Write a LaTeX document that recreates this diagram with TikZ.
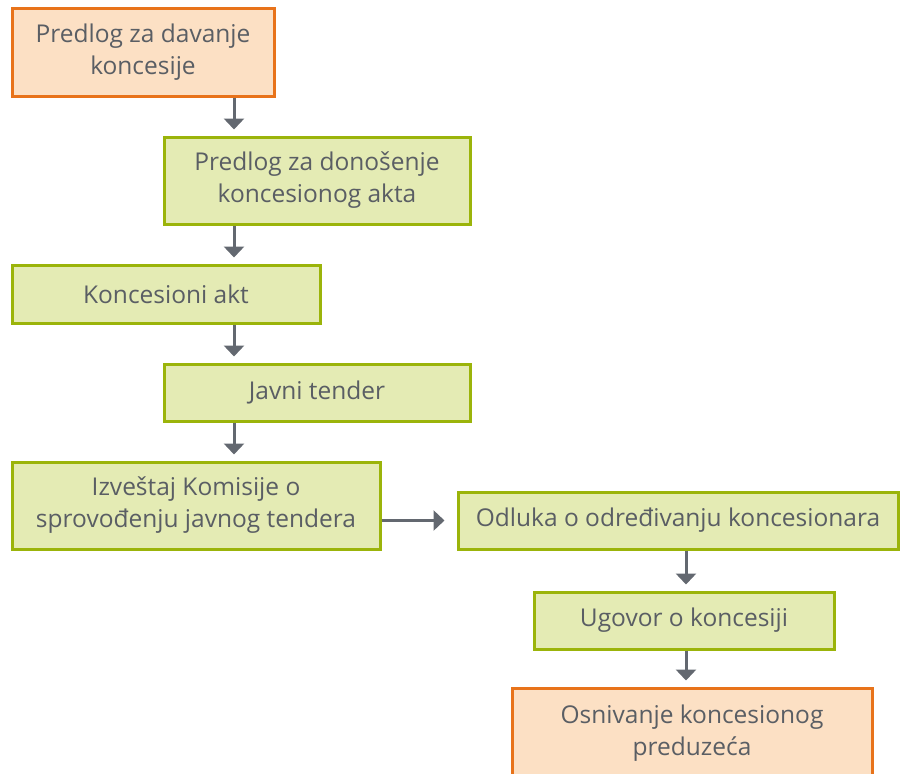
\documentclass[tikz,border=0pt]{standalone}
\usepackage{fontspec}
\setmainfont{Open Sans}
\usetikzlibrary{arrows.meta, positioning}

\definecolor{stepgreen}{RGB}{155,180,10}
\definecolor{stepgreenfill}{RGB}{228,235,180}
\definecolor{steporange}{RGB}{232,115,26}
\definecolor{steporangefill}{RGB}{252,224,196}
\definecolor{steptext}{RGB}{90,94,100}
\definecolor{steparrow}{RGB}{99,104,112}

\begin{document}
\begin{tikzpicture}[x=1pt, y=-1pt,
  phase/.style={draw=stepgreen, fill=stepgreenfill, line width=3pt, align=center,
    text=steptext, font=\fontsize{24.5}{32}\selectfont, inner sep=0pt},
  endpoint/.style={phase, draw=steporange, fill=steporangefill},
  arrow/.style={-{Triangle[width=20pt,length=11pt]}, line width=3pt, draw=steparrow}
]
\useasboundingbox (0,0) rectangle (900,774);

% Nodes
\node[endpoint, minimum width=262pt, minimum height=88pt] (predlog) at (143,52) {Predlog za davanje\\koncesije};
\node[phase, minimum width=306pt, minimum height=87pt] (akt) at (317,180.5) {Predlog za donošenje\\koncesionog akta};
\node[phase, minimum width=308pt, minimum height=58pt] (koncakt) at (166,294) {Koncesioni akt};
\node[phase, minimum width=306pt, minimum height=57pt] (tender) at (317,392.5) {Javni tender};
\node[phase, minimum width=368pt, minimum height=87pt] (izvestaj) at (196,505.5) {Izveštaj Komisije o\\sprovođenju javnog tendera};
\node[phase, minimum width=440pt, minimum height=57pt] (odluka) at (678,520.5) {Odluka o određivanju koncesionara};
\node[phase, minimum width=300pt, minimum height=57pt] (ugovor) at (684,620.5) {Ugovor o koncesiji};
\node[endpoint, minimum width=360pt, minimum height=90pt] (osnivanje) at (692,733) {Osnivanje koncesionog\\preduzeća};

\coordinate (spineL) at (234,0);
\coordinate (spineR) at (686,0);

% Arrows
\draw[arrow, shorten >=6pt] (predlog.south -| spineL) -- (akt.north -| spineL);
\draw[arrow, shorten >=6pt] (akt.south -| spineL) -- (koncakt.north -| spineL);
\draw[arrow, shorten >=6pt] (koncakt.south -| spineL) -- (tender.north -| spineL);
\draw[arrow, shorten >=6pt] (tender.south -| spineL) -- (izvestaj.north -| spineL);
\draw[arrow, shorten >=12pt] (izvestaj.east |- odluka) -- (odluka.west);
\draw[arrow, shorten >=6pt] (odluka.south -| spineR) -- (ugovor.north -| spineR);
\draw[arrow, shorten >=6pt] (ugovor.south -| spineR) -- (osnivanje.north -| spineR);

\end{tikzpicture}
\end{document}
